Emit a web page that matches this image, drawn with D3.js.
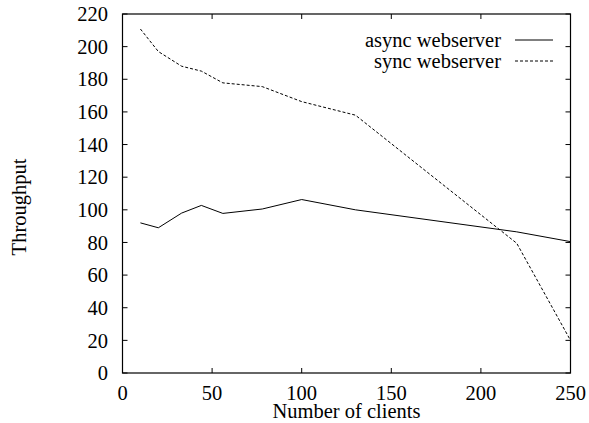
<!DOCTYPE html>
<html>
<head>
<script src="https://d3js.org/d3.v7.min.js"></script>
<style>
body { margin: 0; background: white; }
text { font-family: "Liberation Serif", "Times New Roman", serif; fill: black; }
</style>
</head>
<body>
<script>
// clients on the x axis, throughput for each server
var clients = [10, 20, 33, 44, 56, 78, 100, 130, 220, 250];
var asyncVals = [92, 89, 98, 102.7, 97.8, 100.5, 106.3, 100, 86.5, 80.5];
var syncVals = [210.8, 197, 188, 185, 177.8, 175.5, 166.3, 158, 79.5, 20];
var xTicks = [0, 50, 100, 150, 200, 250];
var yTicks = [0, 20, 40, 60, 80, 100, 120, 140, 160, 180, 200, 220];

var width = 589, height = 423;
var fs = 20.5;
// plot box (window.top is taken, so own names)
var pLeft = 122.5, pRight = 570.5, pTop = 14, pBottom = 373;

var svg = d3.select("body").append("svg")
  .attr("width", width).attr("height", height);

var x = d3.scaleLinear().domain([0, 250]).range([pLeft, pRight]);
var y = d3.scaleLinear().domain([0, 220]).range([pBottom, pTop]);

// ticks inward on every side
var g = svg.append("g");
xTicks.forEach(function(t) {
  g.append("line").attr("x1", x(t)).attr("x2", x(t)).attr("y1", pBottom).attr("y2", pBottom - 5).attr("stroke", "black");
  g.append("line").attr("x1", x(t)).attr("x2", x(t)).attr("y1", pTop).attr("y2", pTop + 5).attr("stroke", "black");
  g.append("text").attr("x", x(t)).attr("y", 393).attr("dy", "0.35em")
    .attr("text-anchor", "middle").attr("font-size", fs).text(t);
});
yTicks.forEach(function(t) {
  g.append("line").attr("x1", pLeft).attr("x2", pLeft + 5).attr("y1", y(t)).attr("y2", y(t)).attr("stroke", "black");
  g.append("line").attr("x1", pRight).attr("x2", pRight - 5).attr("y1", y(t)).attr("y2", y(t)).attr("stroke", "black");
  g.append("text").attr("x", 108).attr("y", y(t)).attr("dy", "0.35em")
    .attr("text-anchor", "end").attr("font-size", fs).text(t);
});

svg.append("rect").attr("x", pLeft).attr("y", pTop)
  .attr("width", pRight - pLeft).attr("height", pBottom - pTop)
  .attr("fill", "none").attr("stroke", "black").attr("stroke-width", 1.2);

var line = d3.line()
  .x(function(d, i) { return x(clients[i]); })
  .y(function(d) { return y(d); });

svg.append("path").datum(asyncVals).attr("d", line)
  .attr("fill", "none").attr("stroke", "black").attr("stroke-width", 1);
svg.append("path").datum(syncVals).attr("d", line)
  .attr("fill", "none").attr("stroke", "black").attr("stroke-width", 1)
  .attr("stroke-dasharray", "3,2");

// legend
svg.append("text").attr("x", 501).attr("y", 40).attr("dy", "0.35em")
  .attr("text-anchor", "end").attr("font-size", fs).text("async webserver");
svg.append("line").attr("x1", 515).attr("x2", 553).attr("y1", 40).attr("y2", 40)
  .attr("stroke", "black");
svg.append("text").attr("x", 501).attr("y", 61).attr("dy", "0.35em")
  .attr("text-anchor", "end").attr("font-size", fs).text("sync webserver");
svg.append("line").attr("x1", 515).attr("x2", 553).attr("y1", 61).attr("y2", 61)
  .attr("stroke", "black").attr("stroke-dasharray", "3,2");

svg.append("text").attr("x", (pLeft + pRight) / 2).attr("y", 411).attr("dy", "0.35em")
  .attr("text-anchor", "middle").attr("font-size", fs).text("Number of clients");
svg.append("text").attr("transform", "translate(19,207) rotate(-90)")
  .attr("dy", "0.35em").attr("text-anchor", "middle").attr("font-size", fs).text("Throughput");
</script>
</body>
</html>
